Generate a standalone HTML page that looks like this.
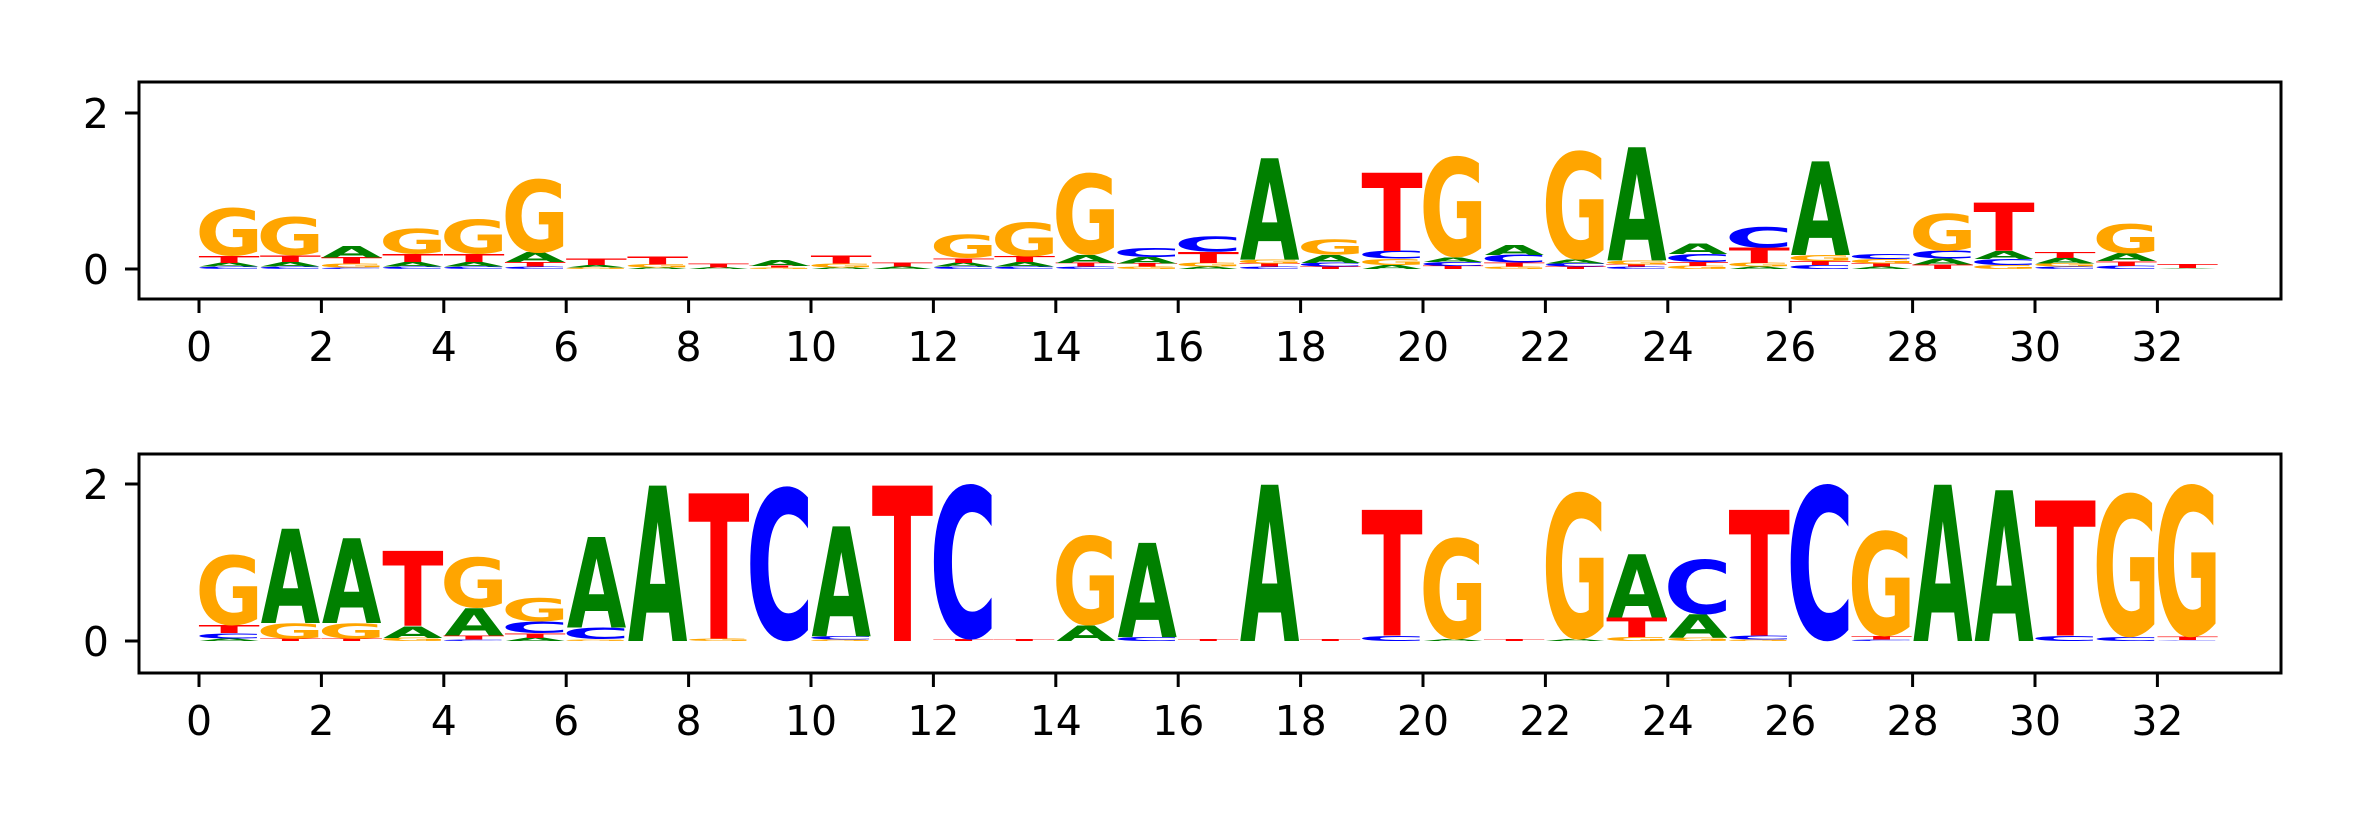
<!DOCTYPE html>
<html><head><meta charset="utf-8"><title>Sequence logos</title>
<style>
html,body{margin:0;padding:0;background:#fff;}
svg{display:block;}
text{font-family:"DejaVu Sans","Liberation Sans",sans-serif;}
</style></head>
<body>
<svg id="chart" width="2362" height="826" viewBox="0 0 2362 826" xmlns="http://www.w3.org/2000/svg"></svg>
<script>
// Position indices
const positions = [0,1,2,3,4,5,6,7,8,9,10,11,12,13,14,15,16,17,18,19,20,21,22,23,24,25,26,27,28,29,30,31,32];
// Top logo letter heights (bits) per position: A, C, G, T
const topA = [0.05,0.06,0.15,0.06,0.06,0.12,0.03,0.02,0.02,0.07,0.02,0.03,0.05,0.06,0.10,0.08,0.03,1.30,0.10,0.05,0.06,0.12,0.05,1.45,0.13,0.03,1.20,0.03,0.07,0.10,0.07,0.10,0.01];
const topC = [0.03,0.03,0.02,0.03,0.03,0.03,0.00,0.00,0.00,0.00,0.00,0.00,0.03,0.03,0.03,0.12,0.20,0.03,0.05,0.10,0.05,0.10,0.04,0.03,0.10,0.27,0.05,0.07,0.10,0.08,0.03,0.04,0.00];
const topG = [0.62,0.50,0.05,0.33,0.45,0.95,0.02,0.04,0.00,0.02,0.05,0.00,0.30,0.44,1.05,0.03,0.05,0.05,0.20,0.08,1.30,0.03,1.40,0.05,0.04,0.05,0.08,0.06,0.48,0.05,0.04,0.38,0.00];
const topT = [0.09,0.08,0.08,0.10,0.10,0.06,0.08,0.10,0.05,0.02,0.10,0.05,0.06,0.07,0.05,0.04,0.14,0.04,0.03,1.00,0.04,0.05,0.03,0.03,0.05,0.20,0.05,0.04,0.06,0.62,0.07,0.06,0.05];
// Bottom logo letter heights (bits)
const botA = [0.03,1.20,1.08,0.15,0.35,0.04,1.15,1.98,0.00,0.00,1.40,0.00,0.00,0.00,0.20,1.20,0.00,1.99,0.00,0.00,0.02,0.00,0.02,0.80,0.30,0.00,0.00,0.00,1.99,1.92,0.00,0.00,0.00];
const botC = [0.07,0.00,0.00,0.00,0.02,0.15,0.15,0.00,0.00,1.97,0.04,0.00,1.98,0.00,0.00,0.05,0.00,0.00,0.00,0.07,0.00,0.00,0.00,0.00,0.70,0.05,2.00,0.02,0.00,0.00,0.07,0.05,0.01];
const botG = [0.90,0.20,0.20,0.04,0.65,0.30,0.02,0.00,0.03,0.00,0.02,0.00,0.00,0.00,1.15,0.00,0.00,0.00,0.00,0.00,1.30,0.00,1.88,0.05,0.04,0.02,0.00,1.35,0.00,0.00,0.00,1.84,1.95];
const botT = [0.10,0.03,0.03,0.95,0.05,0.06,0.00,0.00,1.85,0.00,0.00,1.98,0.02,0.02,0.00,0.00,0.02,0.00,0.02,1.60,0.00,0.02,0.00,0.25,0.00,1.60,0.00,0.04,0.00,0.00,1.72,0.00,0.04];
const xTicks = [0,2,4,6,8,10,12,14,16,18,20,22,24,26,28,30,32];
const yTicks = [0,2];

const NS = "http://www.w3.org/2000/svg";
const svg = document.getElementById('chart');
const colors = {A:'#008000', C:'#0000ff', G:'#ffa500', T:'#ff0000'};
// DejaVu Sans Bold glyph metrics (em): advance, ink left, ink right, ink top, ink bottom
const metrics = {
  A:{adv:0.774, l:0.000, r:0.774, top:0.729, bot:0},
  C:{adv:0.734, l:0.050, r:0.690, top:0.742, bot:-0.013},
  G:{adv:0.821, l:0.050, r:0.770, top:0.742, bot:-0.013},
  T:{adv:0.682, l:0.010, r:0.672, top:0.729, bot:0}
};
const X0 = 139, X1 = 2281;
function xScale(v){ return 199 + v*61.2; }

function mk(tag, attrs, parent){
  const e = document.createElementNS(NS, tag);
  for (const k in attrs) e.setAttribute(k, attrs[k]);
  parent.appendChild(e);
  return e;
}

function panel(name, top, bottom, base, pxPerBit, A, C, G, T){
  const g = mk('g', {}, svg);
  
  
  const yScale = v => base - v*pxPerBit;
  positions.forEach((p, i) => {
    const items = [['A',A[i]],['C',C[i]],['G',G[i]],['T',T[i]]].filter(d => d[1] > 0.004);
    items.sort((a,b) => a[1]-b[1]);
    let cum = 0;
    const x = xScale(p) + 0.5;
    const w = 59.5;
    items.forEach(([L, h]) => {
      const m = metrics[L];
      const yb = yScale(cum);
      const yt = yScale(cum + h);
      const hp = yb - yt;
      const fs = hp / (m.top - m.bot);
      const inkW = m.r - m.l;
      const tl = w * m.adv / inkW;
      const xs = x - w * m.l / inkW;
      const baseY = yb + m.bot * fs;
      const t = mk('text', {x: xs.toFixed(2), y: baseY.toFixed(2), 'font-size': fs.toFixed(3), 'font-weight': 'bold', fill: colors[L], textLength: tl.toFixed(2), lengthAdjust: 'spacingAndGlyphs'}, g);
      
      
      t.textContent = L;
      cum += h;
    });
  });
  const fr = mk('rect', {x: X0, y: top, width: X1-X0, height: bottom-top, fill: 'none', stroke: '#000', 'stroke-width': 3}, g);
  
  
  xTicks.forEach(v => {
    const xx = xScale(v);
    const tk = mk('line', {x1: xx, x2: xx, y1: bottom, y2: bottom + 14, stroke: '#000', 'stroke-width': 3}, g);
    
    
    const lb = mk('text', {x: xx, y: bottom + 62, 'font-size': 41, 'text-anchor': 'middle', fill: '#000'}, g);
    
    
    lb.textContent = v;
  });
  yTicks.forEach(v => {
    const yy = yScale(v);
    const tk = mk('line', {x1: X0 - 14, x2: X0, y1: yy, y2: yy, stroke: '#000', 'stroke-width': 3}, g);
    
    
    const lb = mk('text', {x: X0 - 30, y: yy + 15, 'font-size': 41, 'text-anchor': 'end', fill: '#000'}, g);
    
    
    lb.textContent = v;
  });
}

panel('top-logo-panel', 82, 299, 269, 78, topA, topC, topG, topT);
panel('bottom-logo-panel', 454, 673, 641, 78.5, botA, botC, botG, botT);
</script>
</body></html>
